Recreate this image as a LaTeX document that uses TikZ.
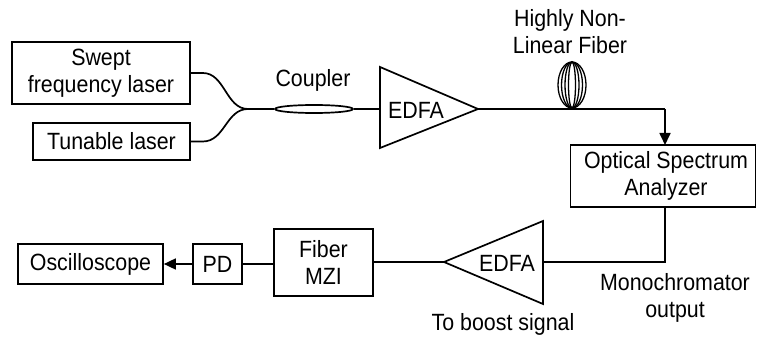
\documentclass[tikz,border=0pt]{standalone}
\usepackage{fontspec}
\setmainfont{Liberation Sans}[FakeStretch=0.91]
\usetikzlibrary{arrows.meta,shapes.geometric}
\begin{document}
\begin{tikzpicture}[x=1pt,y=-1pt,line width=1.7pt,
  every node/.style={font=\fontsize{23.5}{27}\selectfont},
  blk/.style={draw,inner sep=0pt,align=center},
  lbl/.style={inner sep=0pt,align=center},
  arr/.style={-{Triangle[length=12pt,width=11pt]}}]
\useasboundingbox (0,0) rectangle (757,339);
% boxes
\node[blk,minimum width=178pt,minimum height=62pt] (swept) at (101,73) {Swept\\frequency laser};
\node[blk,minimum width=157pt,minimum height=37pt] (tunable) at (111.5,141.5) {Tunable laser};
\node[draw,ellipse,minimum width=78pt,minimum height=8pt,inner sep=0pt] (coupler) at (314,109) {};
\node[lbl] (couplerlbl) at (313,80) {Coupler};
% EDFA 1
\coordinate (e1in) at (380,109);
\coordinate (e1out) at (478,109);
\draw (380,67) -- (380,148) -- (e1out) -- cycle;
\node[lbl] (edfa1) at (416,110) {EDFA};
% fiber coil
\foreach \r in {14,10.5,7,3.5} \draw[line width=1.3pt] (572,85) ellipse ({\r pt} and 23pt);
\node[lbl] (hnlf) at (570,32) {Highly Non-\\Linear Fiber};
% OSA
\node[blk,minimum width=185pt,minimum height=62pt] (osa) at (663,176) {};
\node[lbl] (osalbl) at (666,176) {Optical Spectrum\\Analyzer};
\coordinate (osatop) at (665,145);
\coordinate (osabot) at (665,207);
\coordinate (turn1) at (665,109);
\coordinate (turn2) at (665,262);
% EDFA 2
\coordinate (e2in) at (543,262);
\coordinate (e2out) at (444,262);
\draw (543,221) -- (543,304) -- (e2out) -- cycle;
\node[lbl] (edfa2) at (507,263) {EDFA};
\node[lbl] (boost) at (503,324) {To boost signal};
\node[lbl] (mono) at (675,298) {Monochromator\\output};
% lower boxes
\node[blk,minimum width=99pt,minimum height=67pt] (mzi) at (323.5,262.5) {Fiber\\MZI};
\node[blk,minimum width=49pt,minimum height=40pt] (pd) at (217.5,264) {PD};
\node[blk,minimum width=145pt,minimum height=40pt] (osc) at (90.5,264) {Oscilloscope};
% connectors
\draw (swept.east) -- ++(12,0) .. controls +(22,0) and +(-22,0) .. (248,109) -- (coupler.west);
\draw (tunable.east) -- ++(12,0) .. controls +(22,0) and +(-22,0) .. (248,109);
\draw (coupler.east) -- (e1in);
\draw (e1out) -- (turn1);
\draw[arr] (turn1) -- (osatop);
\draw (osabot) -- (turn2) -- (e2in);
\draw (e2out) -- (mzi.east |- e2out);
\draw (mzi.west |- pd.east) -- (pd.east);
\draw[arr] (pd.west) -- (osc.east);
\end{tikzpicture}
\end{document}
